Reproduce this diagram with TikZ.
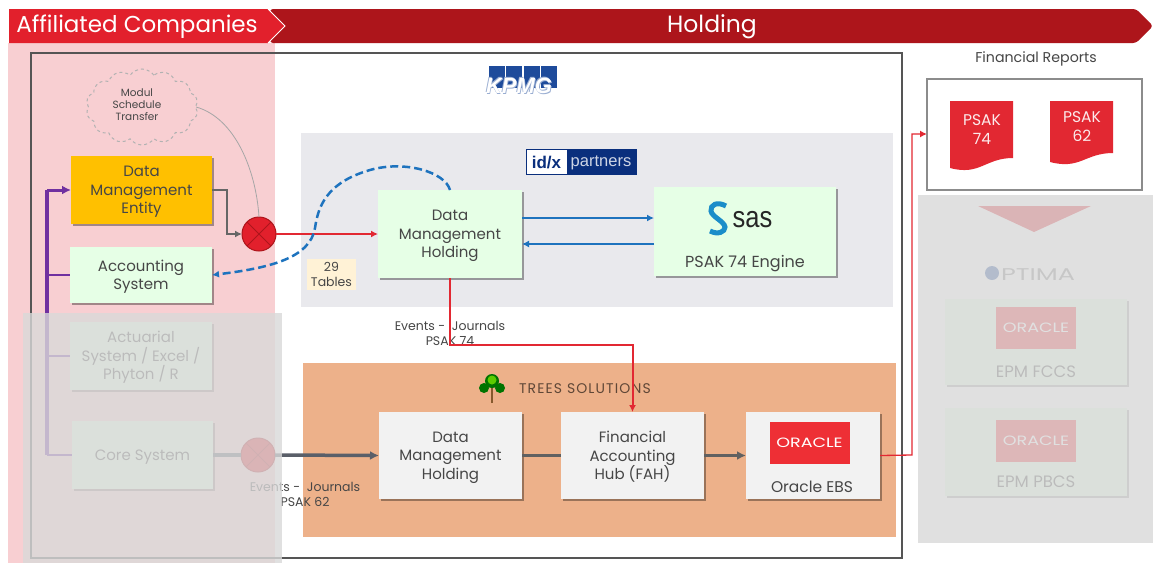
\documentclass[tikz,border=0pt]{standalone}
\usepackage{fontspec}
\setmainfont{Poppins}
\usepackage{tikz}
\usetikzlibrary{shapes.symbols, shadows, arrows.meta, calc}
\newfontfamily\logofont{Liberation Sans}
\definecolor{headdark}{RGB}{173, 21, 27}
\definecolor{headred}{RGB}{226, 32, 44}
\definecolor{pinkpanel}{RGB}{248, 207, 210}
\definecolor{greypanel}{RGB}{233, 233, 237}
\definecolor{orangepanel}{RGB}{237, 177, 138}
\definecolor{mint}{RGB}{230, 255, 230}
\definecolor{paper}{RGB}{242, 242, 242}
\definecolor{amber}{RGB}{255, 192, 0}
\definecolor{cream}{RGB}{255, 242, 214}
\definecolor{inktext}{RGB}{70, 70, 70}
\definecolor{frameline}{RGB}{85, 85, 85}
\definecolor{flowgrey}{RGB}{90, 95, 105}
\definecolor{flowred}{RGB}{226, 40, 50}
\definecolor{flowblue}{RGB}{30, 115, 190}
\definecolor{flowpurple}{RGB}{112, 48, 160}
\definecolor{kpmgblue}{RGB}{30, 75, 155}
\definecolor{idxblue}{RGB}{10, 47, 125}
\definecolor{oraclered}{RGB}{238, 47, 53}
\definecolor{sasblue}{RGB}{27, 141, 201}
\newcommand{\boxfont}{\fontsize{15}{18.5}\selectfont}
\newcommand{\kpmgword}{{\color{kpmgblue!45!white}\rlap{\kern0.7pt\raisebox{-0.6pt}{KPMG}}\rlap{\kern-0.7pt\raisebox{0.6pt}{KPMG}}}KPMG}
\tikzset{
  panel/.style={inner sep=0pt, outer sep=0pt},
  sysbox/.style={panel, align=center, text=inktext, font=\boxfont,
    execute at begin node={\rule{0pt}{\dimexpr 18.5pt*#1-4pt\relax}},
    drop shadow={shadow xshift=1.5pt, shadow yshift=-2pt, opacity=0.35, fill=black}},
  sysbox/.default=1,
  logobox/.style={panel, fill=oraclered, minimum width=80pt, minimum height=42pt, text=white,
    font=\fontsize{13.5}{15}\selectfont\addfontfeatures{FakeStretch=1.3}},
  label/.style={align=center, text=inktext, font=\fontsize{12.5}{15}\selectfont},
  merge/.style={circle, draw=headdark, fill=headred, line width=1pt,
    minimum size=34pt, inner sep=0pt, outer sep=0pt},
  veil/.style={fill=black!15, fill opacity=0.8, draw=none},
  flow/.style={line width=#1, -{Latex[length=9pt, width=9pt]}},
  flow/.default=2pt,
  thin flow/.style={line width=#1, -{Latex[length=7pt, width=7pt]}},
  thin flow/.default=1.5pt
}

\begin{document}
\begin{tikzpicture}[x=1pt, y=-1pt]
  \useasboundingbox (0, 0) rectangle (1153, 563);
  \fill[white] (0, 0) rectangle (1153, 563);

  % header band
  \fill[pinkpanel] (8, 43) rectangle (275, 563);
  \fill[headdark, rounded corners=3pt] (270, 9) -- (1136, 9) -- (1153, 26) -- (1136, 43) -- (270, 43) -- cycle;
  \fill[headred] (9, 9) -- (268, 9) -- (285, 26) -- (268, 43) -- (9, 43) -- cycle;
  \draw[white, line width=1pt] (268, 9) -- (285, 26) -- (268, 43);
  \node[panel, text=white, font=\fontsize{23}{26}\selectfont] (affiliated) at (137, 27) {Affiliated Companies};
  \node[panel, text=white, font=\fontsize{23.5}{26}\selectfont] (holding) at (712, 27) {Holding};

  \draw[frameline, line width=2pt] (31, 53) rectangle (902, 558);

  \fill[greypanel] (301, 133) rectangle (893, 307);
  \fill[orangepanel] (303, 363) rectangle (896, 537);

  % KPMG
  \foreach \n in {0, 1, 2, 3} {
    \pgfmathsetmacro{\xi}{489 + 17.25 * \n}
    \fill[kpmgblue] (\xi, 66) rectangle (\xi + 16, 88);
  }
  \node[panel, text=white, font=\logofont\bfseries\itshape\fontsize{22}{24}\selectfont] (kpmg) at (519, 86) {\kpmgword};

  % id/x partners
  \draw[idxblue, fill=white] (526.5, 149.5) rectangle (567, 174.5);
  \fill[idxblue] (567, 149) rectangle (637, 175);
  \node[panel, text=idxblue, font=\logofont\bfseries\fontsize{17}{18}\selectfont] (idx) at (546.5, 163) {id/x};
  \node[panel, text=white!80!idxblue, font=\logofont\fontsize{16.5}{18}\selectfont] (partners) at (601, 163) {partners};

  % boxes of the entity side
  \node[sysbox=3, fill=amber, minimum width=141pt, minimum height=68pt] (dme) at (141.5, 190) {Data\\Management\\Entity};
  \node[sysbox=2, fill=mint, minimum width=142pt, minimum height=56pt] (acc) at (141, 275) {Accounting\\System};
  \node[sysbox=3, fill=mint, minimum width=142pt, minimum height=68pt] (act) at (141, 356) {Actuarial\\System / Excel /\\Phyton / R};
  \node[sysbox, fill=mint, minimum width=141pt, minimum height=68pt] (core) at (142.5, 455) {Core System};

  \node[cloud, cloud puffs=14, cloud puff arc=110, aspect=1.45, draw=black!30, dashed, line width=1pt,
    minimum width=112pt, minimum height=76pt, inner sep=0pt] (modul) at (142, 107) {};
  \node[panel, align=center, text=inktext, font=\fontsize{10.5}{12}\selectfont] (modultext) at (137, 105) {Modul\\Schedule\\Transfer};

  % boxes of the holding side
  \node[sysbox=3, fill=mint, minimum width=144pt, minimum height=88pt] (dmh) at (450, 234) {Data\\Management\\Holding};
  \node[sysbox, fill=mint, minimum width=182pt, minimum height=89pt] (sas) at (745, 231.5) {};
  \node[panel, text=inktext, font=\fontsize{16}{18}\selectfont] (sasname) at (745, 263.5) {PSAK 74 Engine};
  \node[panel, text=black!85, font=\logofont\fontsize{30}{32}\selectfont\addfontfeatures{FakeStretch=0.85}] (saslogo) at (752.5, 220) {sas};
  \draw[sasblue, line width=5pt] (726, 206) .. controls (717, 201) and (710, 205) .. (711, 211)
    .. controls (712, 217) and (724, 221) .. (725, 227) .. controls (725, 232) and (718, 235) .. (710, 231);

  \node[sysbox=3, fill=paper, minimum width=143pt, minimum height=87pt] (dmhtree) at (450.5, 455.5) {Data\\Management\\Holding};
  \node[sysbox=3, fill=paper, minimum width=143pt, minimum height=87pt] (fah) at (632.5, 455.5) {Financial\\Accounting\\Hub (FAH)};
  \node[sysbox, fill=paper, minimum width=134pt, minimum height=87pt] (ebs) at (813, 455.5) {};
  \node[logobox] (oracle) at (809.5, 443) {ORACLE};
  \node[panel, text=inktext, font=\fontsize{15.5}{18}\selectfont] (ebsname) at (812, 487) {Oracle EBS};

  % trees solutions
  \draw[brown!70!black, line width=2.5pt] (492, 403) -- (492, 388);
  \foreach \px/\py/\pr in {492/381/7, 484/388/5, 500/388/5} {
    \fill[green!45!black] (\px, \py) circle (\pr);
  }
  \fill[green!55!yellow!80!black] (492, 380) circle (4.5);
  \node[panel, text=black!60!orangepanel, font=\fontsize{14}{15}\selectfont\addfontfeatures{LetterSpace=8}, anchor=west] (trees) at (519, 388.5) {TREES SOLUTIONS};

  \node[panel, fill=cream, minimum width=49pt, minimum height=31pt, align=center,
    text=inktext, font=\fontsize{12.5}{15}\selectfont] (tables) at (331.5, 274.5) {29\\Tables};

  % merge points
  \node[merge] (mergeA) at (259, 234) {};
  \node[merge] (mergeB) at (258, 455) {};
  \foreach \m in {mergeA, mergeB} {
    \draw[headdark, line width=1pt] (\m.north west) -- (\m.south east);
    \draw[headdark, line width=1pt] (\m.north east) -- (\m.south west);
  }

  % purple feeds
  \coordinate (bus) at (47, 190);
  \draw[flowpurple, flow=3pt] (bus) -- (dme.west);
  \draw[flowpurple, line width=3.5pt] (bus) -- (bus |- core.west);
  \draw[flowpurple, line width=2.5pt] (bus |- core.west) -- (core.west);
  \draw[flowpurple, line width=2.5pt] (bus |- acc.west) -- (acc.west);
  \draw[flowpurple, line width=2.5pt] (bus |- act.west) -- (act.west);

  % grey flows
  \draw[black!35, line width=0.8pt] (modul.east) .. controls (235, 118) and (256, 170) .. (mergeA.north);
  \draw[black!60, thin flow=2.5pt] (dme.east) -| (227, 234) -- (mergeA.west);
  \draw[flowgrey, line width=3.5pt] (core.east) -- (mergeB.west);
  \draw[flowgrey, flow=3.5pt] (mergeB.east) -- (dmhtree.west);
  \draw[black!62, line width=3.5pt] (dmhtree.east) -- (fah.west);
  \draw[black!62, flow=3.5pt] (fah.east) -- (ebs.west);

  % red flows
  \draw[flowred, thin flow=2pt] (mergeA.east) -- (dmh.west);
  \coordinate (reportin) at (927, 134);
  \draw[flowred, thin flow=1.3pt] (ebs.east) -- (912, 455) -- (912, 134) -- (reportin);
  \node[label] (eventsA) at (450, 333.5) {Events -\ \ Journals\\PSAK 74};
  \draw[flowred, thin flow=2pt] (dmh.south) -- (450, 345) -| (fah.north);

  % blue flows
  \draw[flowblue, thin flow=2pt] ([yshift=16pt]dmh.east) -- ([yshift=13.5pt]sas.west);
  \draw[flowblue, thin flow=2pt] ([yshift=-12.5pt]sas.west) -- ([yshift=-10pt]dmh.east);
  \draw[flowblue, thin flow=2.5pt, dash pattern=on 8pt off 4pt] (dmh.north) .. controls (445, 172) and (405, 160) .. (370, 170)
    .. controls (325, 183) and (318, 208) .. (315, 228) .. controls (310, 258) and (270, 268) .. (acc.east);

  \node[label] (eventsB) at (305, 494.5) {Events -\ \ Journals\\PSAK 62};

  % financial reports
  \node[panel, text=inktext, font=\fontsize{14.2}{16}\selectfont] (reports) at (1036, 58.5) {Financial Reports};
  \draw[black!45, line width=1.2pt] (927, 79) rectangle (1142, 190);
  \foreach \dx/\dl/\dr in {950/168/158, 1050/162/153} {
    \fill[flowred] (\dx, 101) -- (\dx + 63, 101) -- (\dx + 63, \dr)
      .. controls (\dx + 35, \dr) and (\dx + 30, \dl + 8) .. (\dx, \dl) -- cycle;
  }
  \node[panel, align=center, text=white!90!flowred, font=\fontsize{15.5}{18.5}\selectfont] (docA) at (982, 129.5) {PSAK\\74};
  \node[panel, align=center, text=white!90!flowred, font=\fontsize{15.5}{18.5}\selectfont] (docB) at (1082, 126.5) {PSAK\\62};

  % optima side
  \fill[headred] (978, 206) -- (1091, 206) -- (1034, 232) -- cycle;
  \fill[kpmgblue] (992, 273) circle (7);
  \node[panel, text=black!50, font=\fontsize{17}{20}\selectfont\addfontfeatures{FakeStretch=1.5}, anchor=west] (optima) at (1001, 274.5) {PTIMA};
  \node[sysbox, fill=mint, minimum width=182pt, minimum height=86pt] (fccsbox) at (1036, 342) {};
  \node[sysbox, fill=mint, minimum width=182pt, minimum height=88pt] (pbcsbox) at (1036, 452) {};
  \node[logobox] (oraclefccs) at (1036, 328) {ORACLE};
  \node[logobox] (oraclepbcs) at (1036, 441) {ORACLE};
  \node[panel, text=inktext, font=\fontsize{16.5}{18}\selectfont] (fccs) at (1036, 372) {EPM FCCS};
  \node[panel, text=inktext, font=\fontsize{16.5}{18}\selectfont] (pbcs) at (1036, 482) {EPM PBCS};

  % grey veils
  \fill[veil] (23, 313) rectangle (282, 563);
  \fill[veil] (918, 195) rectangle (1153, 543);

\end{tikzpicture}
\end{document}
